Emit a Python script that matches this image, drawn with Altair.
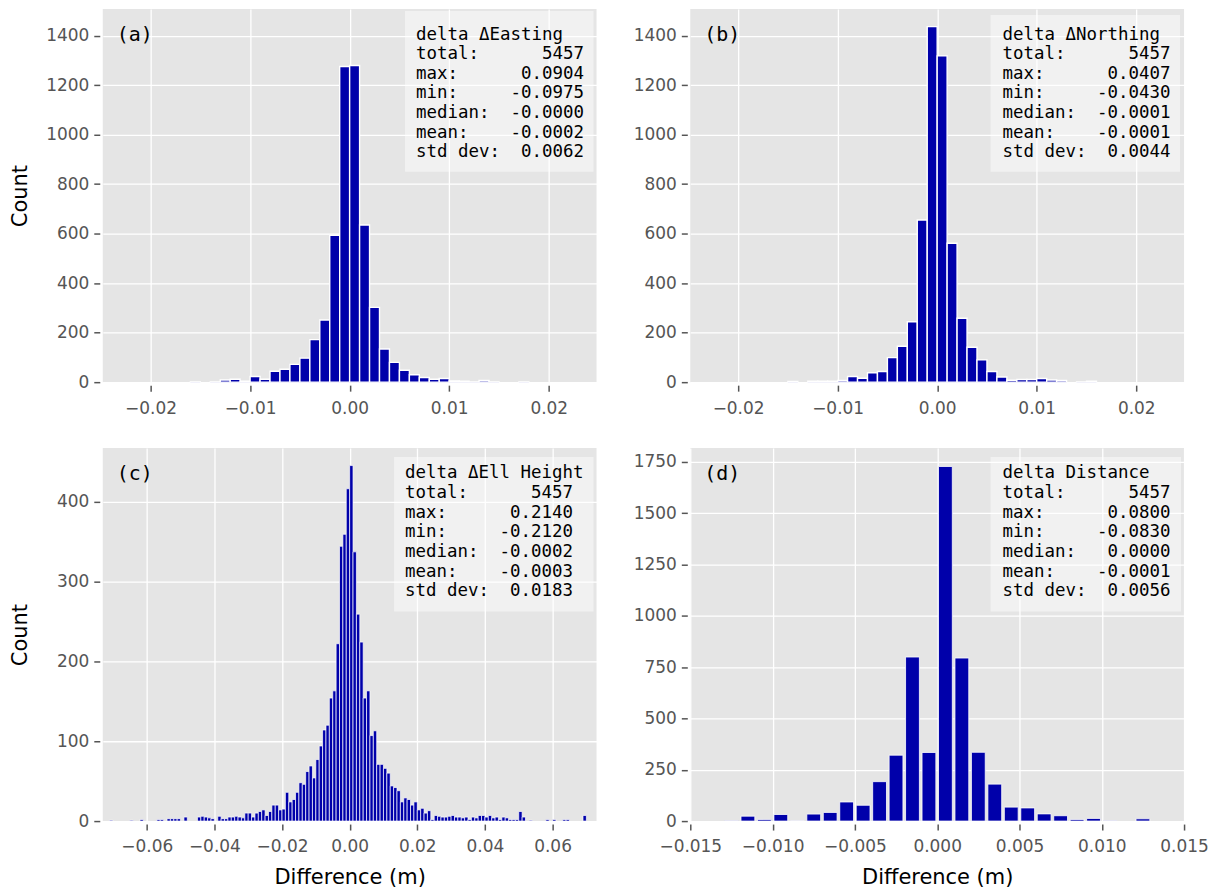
import altair as alt
import pandas as pd

BIN_W = 0.001
BLUE = "#0000aa"
NB = "\u00a0"

# ---- histogram counts (bins of 0.001 m, first bin index kmin) ----
A_KMIN = -16
A_COUNTS = [1, 0, 1, 9, 12, 4, 23, 12, 44, 52, 72, 97, 172, 251, 593, 1275, 1279,
            635, 302, 134, 80, 48, 30, 19, 12, 15, 5, 4, 1, 7, 1, 0, 0, 1]

B_KMIN = -15
B_COUNTS = [3, 0, 4, 4, 4, 7, 23, 16, 38, 43, 99, 145, 244, 655, 1436, 1318,
            561, 258, 141, 90, 43, 21, 8, 11, 11, 15, 9, 7, 0, 1, 4]

C_KMIN = -71
C_COUNTS = [1, 0, 0, 0, 0, 0, 1, 0, 0, 2,
            0, 0, 0, 0, 2, 2, 0, 3, 3, 3,
            3, 0, 5, 0, 0, 0, 5, 6, 5, 4,
            3, 0, 6, 3, 3, 5, 5, 6, 5, 4,
            10, 10, 5, 10, 12, 14, 7, 12, 20, 20,
            14, 15, 36, 24, 27, 36, 48, 46, 62, 69,
            54, 77, 94, 114, 120, 154, 163, 222, 344, 359,
            416, 445, 337, 259, 224, 154, 163, 107, 113, 71,
            71, 66, 60, 44, 42, 38, 24, 29, 27, 20,
            24, 14, 16, 10, 13, 2, 7, 6, 5, 5,
            6, 7, 5, 5, 4, 5, 2, 5, 4, 7,
            7, 5, 7, 4, 5, 2, 5, 4, 2, 2,
            2, 12, 5, 0, 1, 0, 0, 0, 0, 2,
            0, 2, 0, 0, 2, 2, 0, 0, 0, 0, 7]

D_KMIN = -13
D_COUNTS = [1, 24, 8, 32, 1, 34, 42, 93, 77, 192, 321, 799, 334, 1727, 794, 335,
            180, 68, 64, 35, 26, 8, 13, 1, 0, 11]

# ---- axes ----
AB_XTICKS = [-0.02, -0.01, 0.0, 0.01, 0.02]
C_XTICKS = [-0.06, -0.04, -0.02, 0.0, 0.02, 0.04, 0.06]
D_XTICKS = [-0.015, -0.01, -0.005, 0.0, 0.005, 0.01, 0.015]
AB_YTICKS = [0, 200, 400, 600, 800, 1000, 1200, 1400]
C_YTICKS = [0, 100, 200, 300, 400]
D_YTICKS = [0, 250, 500, 750, 1000, 1250, 1500, 1750]

# ---- stats boxes ----
A_STATS = ["delta ΔEasting", "total:      5457", "max:      0.0904", "min:     -0.0975",
           "median:  -0.0000", "mean:    -0.0002", "std dev:  0.0062"]
B_STATS = ["delta ΔNorthing", "total:      5457", "max:      0.0407", "min:     -0.0430",
           "median:  -0.0001", "mean:    -0.0001", "std dev:  0.0044"]
C_STATS = ["delta ΔEll Height", " total:      5457", " max:      0.2140", " min:     -0.2120",
           " median:  -0.0002", " mean:    -0.0003", " std dev:  0.0183"]
D_STATS = ["delta Distance", "total:      5457", "max:      0.0800", "min:     -0.0830",
           "median:   0.0000", "mean:    -0.0001", "std dev:  0.0056"]

W, H = 495, 374


def panel(kmin, counts, xdom, xticks, xfmt, ydom, yticks, tag, stats, box, text_x,
          ytitle, xtitle, stroke_w, inset):
    df = pd.DataFrame({"k": list(range(kmin, kmin + len(counts))), "count": counts})
    df["start"] = df["k"] * BIN_W + inset
    df["end"] = (df["k"] + 1) * BIN_W - inset
    df = df[df["count"] > 0]

    xaxis_kw = dict(values=xticks, format=xfmt, offset=3, tickSize=6, labelPadding=9,
                    minExtent=32, maxExtent=32, labelOverlap=False, labelFlush=False)
    if xtitle:
        xaxis_kw.update(title=xtitle, titlePadding=11)
    else:
        xaxis_kw.update(title=None)
    yaxis_kw = dict(values=yticks, format="d", offset=3, tickSize=6, labelPadding=5,
                    minExtent=60, maxExtent=60, labelOverlap=False, labelFlush=False)
    if ytitle:
        yaxis_kw.update(title=ytitle, titlePadding=9)
    else:
        yaxis_kw.update(title=None)

    bars = alt.Chart(df).mark_bar(color=BLUE, stroke="white", strokeWidth=stroke_w,
                                  clip=True).encode(
        x=alt.X("start:Q", scale=alt.Scale(domain=xdom, nice=False, zero=False),
                axis=alt.Axis(**xaxis_kw)),
        x2="end:Q",
        y=alt.Y("count:Q", scale=alt.Scale(domain=ydom, nice=False),
                axis=alt.Axis(**yaxis_kw)),
        y2=alt.datum(0),
    )
    one = pd.DataFrame({"v": [0]})
    rect = alt.Chart(one).mark_rect(fill="white", opacity=0.45).encode(
        x=alt.value(box[0]), x2=alt.value(box[1]), y=alt.value(box[2]), y2=alt.value(box[3])
    )
    txt = "\n".join(s.replace(" ", NB) for s in stats)
    stats_mark = alt.Chart(one).mark_text(
        align="left", baseline="top", font="DejaVu Sans Mono", fontSize=17.5,
        lineHeight=19.7, lineBreak="\n", color="black"
    ).encode(x=alt.value(text_x), y=alt.value(16.5), text=alt.value(txt))
    tag_mark = alt.Chart(one).mark_text(
        align="left", baseline="middle", font="DejaVu Sans Mono", fontSize=20, color="black"
    ).encode(x=alt.value(14), y=alt.value(26), text=alt.value(tag))
    return alt.layer(bars, rect, stats_mark, tag_mark).properties(width=W, height=H)


pa = panel(A_KMIN, A_COUNTS, [-0.0248, 0.0248], AB_XTICKS, ".2f", [0, 1507], AB_YTICKS,
           "(a)", A_STATS, (303, 492, 2, 163), 314, "Count", None, 1.4, 0.0)
pb = panel(B_KMIN, B_COUNTS, [-0.0248, 0.0248], AB_XTICKS, ".2f", [0, 1507], AB_YTICKS,
           "(b)", B_STATS, (301, 491, 6, 163), 313, None, None, 1.4, 0.0)
pc = panel(C_KMIN, C_COUNTS, [-0.0730, 0.0730], C_XTICKS, ".2f", [0, 467], C_YTICKS,
           "(c)", C_STATS, (292, 492, 9, 164), 303, "Count", "Difference (m)", 0.7, 0.0)
pd_ = panel(D_KMIN, D_COUNTS, [-0.015, 0.015], D_XTICKS, ".3f", [0, 1817], D_YTICKS,
            "(d)", D_STATS, (301, 492, 9, 164), 313, None, "Difference (m)", 0.8, 0.00008)

top = alt.hconcat(pa, pb, spacing=31)
bottom = alt.hconcat(pc, pd_, spacing=31)
chart = alt.vconcat(top, bottom, spacing=31).properties(
    padding={"left": 2, "top": 0, "right": 0, "bottom": 0},
    background="white",
).configure_view(
    stroke=None, fill="#E5E5E5"
).configure_axis(
    labelFont="DejaVu Sans", labelFontSize=17, labelColor="#555555",
    tickColor="#555555", tickWidth=1.5, domain=False,
    grid=True, gridColor="white", gridWidth=1.3,
    titleFont="DejaVu Sans", titleFontSize=21, titleFontWeight="normal", titleColor="black"
)

chart.save("out.html", embed_options={"renderer": "svg", "actions": False})
